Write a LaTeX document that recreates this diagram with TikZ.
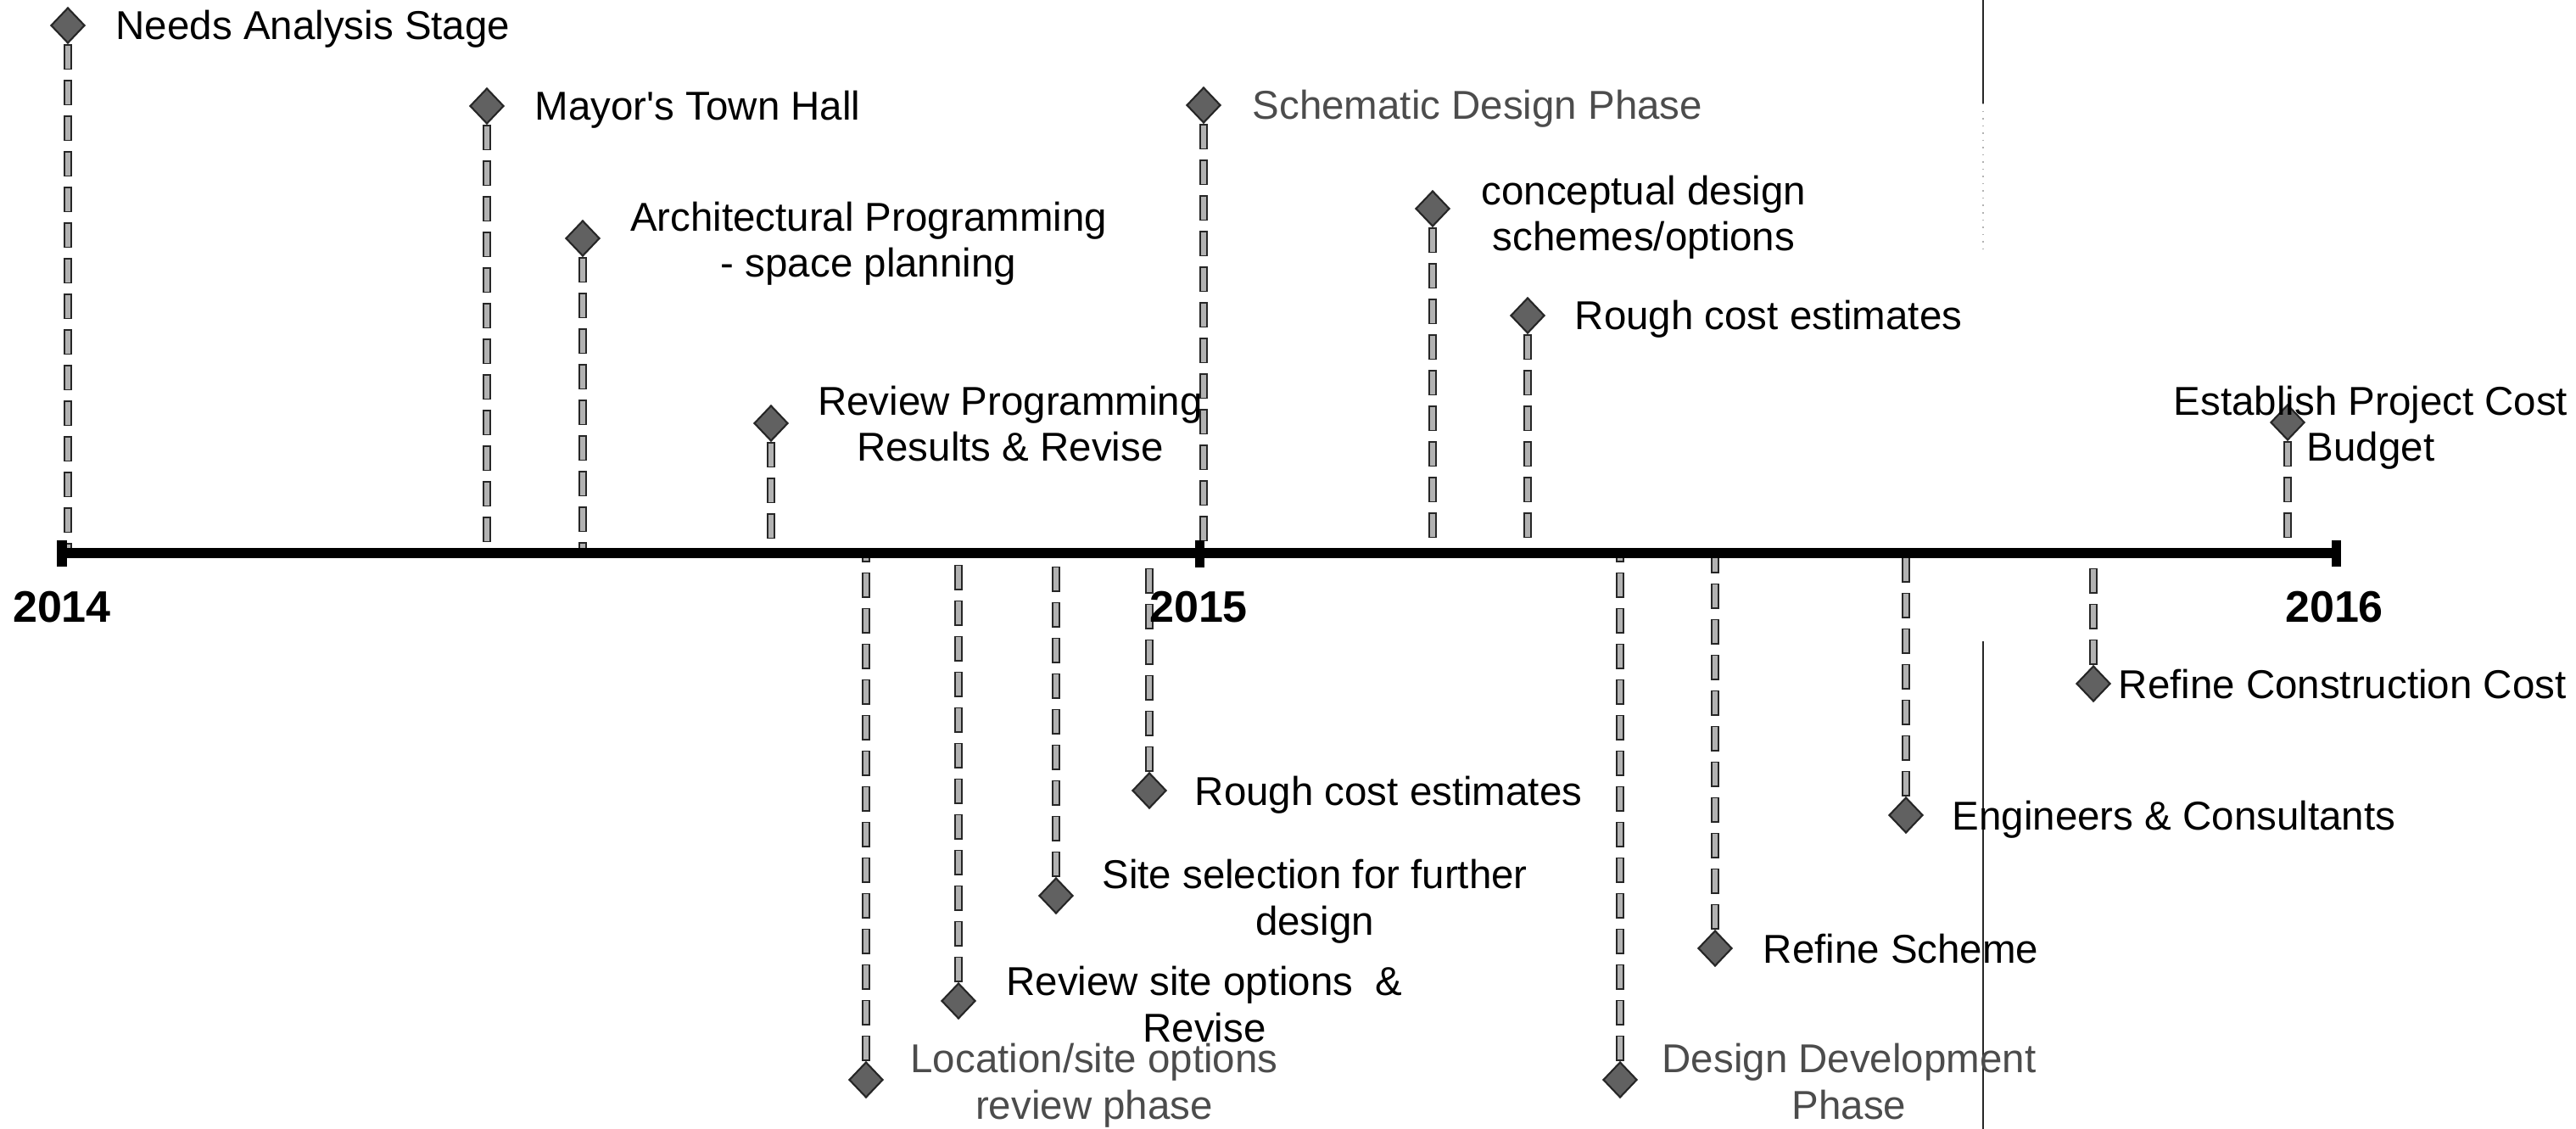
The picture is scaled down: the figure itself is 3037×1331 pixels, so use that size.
\documentclass[tikz,border=0pt]{standalone}
\usepackage{fontspec}
\setmainfont{Liberation Sans}[Ligatures=TeXOff]
\usetikzlibrary{shapes.geometric}
\newcommand{\twoline}[2]{\begin{tabular}[b]{@{}c@{}}#1\\#2\end{tabular}}
\begin{document}
\begin{tikzpicture}[x=0.01cm,y=-0.01cm,
  marker/.style={diamond, draw=black!85, fill=black!62, line width=0.6pt, inner sep=0pt, minimum width=0.4cm, minimum height=0.42cm},
  stemline/.style={draw=black!85, line width=0.1cm, dash pattern=on 0.3cm off 0.12cm,
    postaction={draw=black!30, line width=0.065cm, dash pattern=on 0.27cm off 0.15cm, dash phase=0.405cm}},
  lbl/.style={inner sep=0pt, font=\fontsize{13.5}{15.6}\selectfont, text=black},
  phaselbl/.style={lbl, text=black!70},
  yearlbl/.style={inner sep=0pt, font=\fontsize{14.8}{17}\selectfont\bfseries},
  axisline/.style={line width=0.11cm, black},
  edgeline/.style={line width=0.02cm, black!85},
]
\useasboundingbox (0,0) rectangle (3037,1331);

% page-edge line
\coordinate (e1) at (2338,0);
\coordinate (e2) at (2338,122);
\coordinate (e3) at (2338,300);
\coordinate (e4) at (2338,756);
\coordinate (e5) at (2338,1331);
\draw[edgeline] (e1) -- (e2);
\draw[line width=0.015cm, black!30, dotted] (e2) -- (e3);
\draw[edgeline] (e4) -- (e5);

% markers above the axis
\node[marker] (d1) at (80,30) {};
\node[marker] (d2) at (574,125) {};
\node[marker] (d3) at (687,281) {};
\node[marker] (d4) at (909,499) {};
\node[marker] (d5) at (1419,124) {};
\node[marker] (d6) at (1689,246) {};
\node[marker] (d7) at (1801,372) {};
\node[marker] (d8) at (2697,498) {};
% markers below the axis
\node[marker] (d9) at (1021,1273) {};
\node[marker] (d10) at (1130,1180) {};
\node[marker] (d11) at (1245,1056) {};
\node[marker] (d12) at (1355,932) {};
\node[marker] (d13) at (1910,1273) {};
\node[marker] (d14) at (2022,1118) {};
\node[marker] (d15) at (2247,961) {};
\node[marker] (d16) at (2468,806) {};

% stem ends on the axis
\coordinate (a1) at (80,647);
\coordinate (a2) at (574,647);
\coordinate (a3) at (687,647);
\coordinate (a4) at (909,647);
\coordinate (a5) at (1419,647);
\coordinate (a6) at (1689,647);
\coordinate (a7) at (1801,647);
\coordinate (a8) at (2697,647);
\coordinate (a9) at (1021,657);
\coordinate (a10) at (1130,657);
\coordinate (a11) at (1245,657);
\coordinate (a12) at (1355,657);
\coordinate (a13) at (1910,657);
\coordinate (a14) at (2022,657);
\coordinate (a15) at (2247,657);
\coordinate (a16) at (2468,657);

\foreach \i in {1,...,8} {\draw[stemline] (d\i.south) -- (a\i);}
\foreach \i in {9,...,16} {\draw[stemline] (d\i.north) -- (a\i);}

% axis
\coordinate (L) at (73,652);
\coordinate (R) at (2754,652);
\coordinate (Lt) at (73,637);
\coordinate (Lb) at (73,668);
\coordinate (Mt) at (1414,637);
\coordinate (Mb) at (1414,669);
\coordinate (Rt) at (2754,637);
\coordinate (Rb) at (2754,668);
\draw[axisline] (L) -- (R);
\draw[axisline] (Lt) -- (Lb);
\draw[axisline] (Mt) -- (Mb);
\draw[axisline] (Rt) -- (Rb);

% years
\node[yearlbl, anchor=base] (y14) at (73,733) {2014};
\node[yearlbl, anchor=base] (y15) at (1413,733) {2015};
\node[yearlbl, anchor=base] (y16) at (2752,733) {2016};

% labels above
\node[lbl, anchor=base west] (t1) at (136,47) {Needs Analysis Stage};
\node[lbl, anchor=base west] (t2) at (630,142) {Mayor's Town Hall};
\node[lbl, anchor=base] (t3) at (1024,327) {\twoline{Architectural Programming}{- space planning}};
\node[lbl, anchor=base] (t4) at (1191,544) {\twoline{Review Programming}{Results \& Revise}};
\node[phaselbl, anchor=base west] (t5) at (1476,141) {Schematic Design Phase};
\node[lbl, anchor=base] (t6) at (1938,296) {\twoline{conceptual design}{schemes/options}};
\node[lbl, anchor=base west] (t7) at (1856,389) {Rough cost estimates};
\node[lbl, anchor=base] (t8) at (2795,544) {\twoline{Establish Project Cost}{Budget}};
% labels below
\node[phaselbl, anchor=base] (t9) at (1290,1319) {\twoline{Location/site options}{review phase}};
\node[lbl, anchor=base] (t10) at (1420,1228) {\twoline{Review site options~~\&}{Revise}};
\node[lbl, anchor=base] (t11) at (1550,1102) {\twoline{Site selection for further}{design}};
\node[lbl, anchor=base west] (t12) at (1408,949) {Rough cost estimates};
\node[phaselbl, anchor=base] (t13) at (2180,1319) {\twoline{Design Development}{Phase}};
\node[lbl, anchor=base west] (t14) at (2078,1135) {Refine Scheme};
\node[lbl, anchor=base west] (t15) at (2301,978) {Engineers \& Consultants};
\node[lbl, anchor=base west] (t16) at (2497,823) {Refine Construction Cost};
\end{tikzpicture}
\end{document}
